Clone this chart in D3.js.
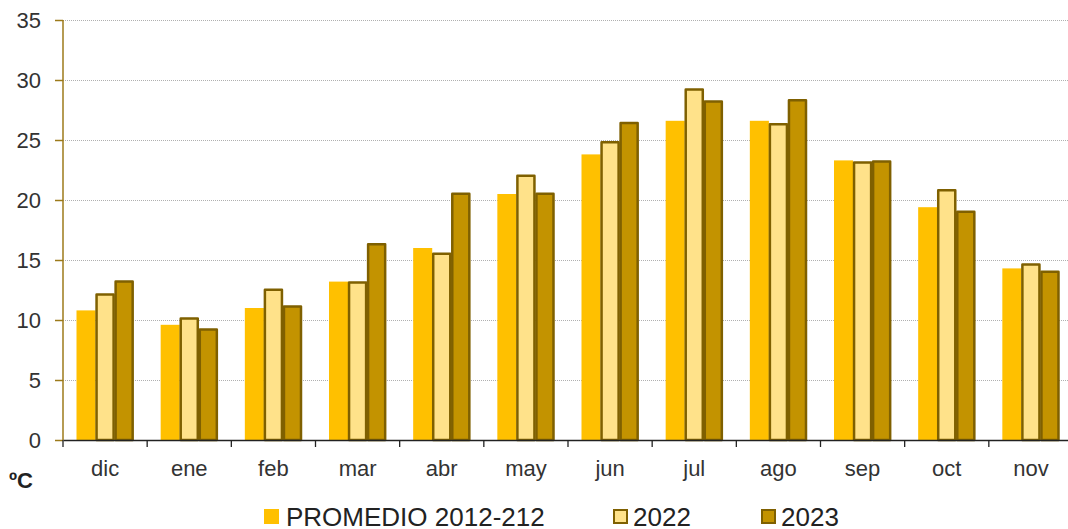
<!DOCTYPE html>
<head>
  <meta charset="utf-8">
  <script src="https://cdn.jsdelivr.net/npm/d3@7/dist/d3.min.js"></script>
  <style>
    body { font-family: Arial, "Liberation Sans", sans-serif; margin:0; background:#fff; overflow:hidden; }
    .grid line { stroke:#b0b0b0; stroke-dasharray:1,1; }
    .grid path { display:none; }
  </style>
</head>
<body>
  <script>
    // data
    var months = ["dic","ene","feb","mar","abr","may","jun","jul","ago","sep","oct","nov"];
    var seriesNames = ["PROMEDIO 2012-212", "2022", "2023"];
    var promedio = [10.8, 9.6, 11.0, 13.2, 16.0, 20.5, 23.8, 26.6, 26.6, 23.3, 19.4, 14.3];
    var y2022 =    [12.2, 10.2, 12.6, 13.2, 15.6, 22.1, 24.9, 29.3, 26.4, 23.2, 20.9, 14.7];
    var y2023 =    [13.3, 9.3, 11.2, 16.4, 20.6, 20.6, 26.5, 28.3, 28.4, 23.3, 19.1, 14.1];
    var yTicks = [0, 5, 10, 15, 20, 25, 30, 35];

    var fills = ["#FFC000", "#FFE28A", "#C39300"];
    var strokes = [null, "#7F6000", "#7F6000"];

    var width = 1068, height = 529;
    var svg = d3.select("body").append("svg")
      .attr("width", width).attr("height", height);

    var mLeft = 63, mTop = 20, mBottom = 440, mRight = 1073;

    var x = d3.scaleBand().domain(months).range([mLeft, mRight]).paddingInner(0).paddingOuter(0);
    var x1 = d3.scaleBand().domain([0,1,2]).range([13.5, x.bandwidth() - 13.5]);
    var y = d3.scaleLinear().domain([0, 35]).range([mBottom, mTop]);

    // gridlines
    svg.append("g").attr("class", "grid")
      .attr("transform", "translate(" + mLeft + ",0)")
      .call(d3.axisRight(y).tickValues(yTicks.slice(1)).tickSize(mRight - mLeft).tickFormat(""));

    var data = months.map(function(m, i) {
      return { month: m, vals: [promedio[i], y2022[i], y2023[i]] };
    });

    var groups = svg.selectAll(".grp").data(data).enter().append("g")
      .attr("transform", function(d) { return "translate(" + x(d.month) + ",0)"; });

    groups.selectAll("rect").data(function(d) { return d.vals; }).enter().append("rect")
      .attr("x", function(d, i) { return x1(i) + (strokes[i] ? 1 : 0); })
      .attr("width", function(d, i) { return x1.bandwidth() - (strokes[i] ? 2 : 0); })
      .attr("y", function(d, i) { return y(d) + (strokes[i] ? 1 : 0); })
      .attr("height", function(d, i) { return mBottom - y(d) - (strokes[i] ? 1 : 0); })
      .attr("fill", function(d, i) { return fills[i]; })
      .attr("stroke", function(d, i) { return strokes[i] || "none"; })
      .attr("stroke-width", 2.5)
      .attr("stroke-linejoin", "round");

    // y axis
    var yAxis = svg.append("g")
      .attr("transform", "translate(" + mLeft + ",0)")
      .call(d3.axisLeft(y).tickValues(yTicks).tickSize(8).tickPadding(14));
    yAxis.selectAll("line").attr("stroke", "#9C7A1A").attr("stroke-width", 1.5);
    yAxis.select(".domain").attr("stroke", "#9C7A1A").attr("stroke-width", 1.5)
      .attr("d", "M0," + mTop + "V" + mBottom);
    yAxis.selectAll("text").attr("font-size", 22).attr("font-family", "Arial, 'Liberation Sans'").attr("fill", "#333");

    // x axis
    var xAxis = svg.append("g")
      .attr("transform", "translate(0," + mBottom + ")")
      .call(d3.axisBottom(x).tickSize(0).tickPadding(20));
    xAxis.select(".domain").attr("stroke", "#222").attr("stroke-width", 1.3);
    xAxis.selectAll("text").attr("font-size", 22).attr("font-family", "Arial, 'Liberation Sans'").attr("fill", "#333");
    // tick marks at band boundaries
    svg.append("g").selectAll("line").data(months).enter().append("line")
      .attr("x1", function(d) { return x(d); }).attr("x2", function(d) { return x(d); })
      .attr("y1", mBottom).attr("y2", mBottom + 7)
      .attr("stroke", "#222").attr("stroke-width", 1.3);

    // unit label
    svg.append("text").attr("x", 9).attr("y", 488)
      .attr("font-size", 22).attr("font-weight", "bold").attr("fill", "#222")
      .text("ºC");

    // legend
    var legendX = [264, 613, 761];
    var leg = svg.selectAll(".leg").data(seriesNames).enter().append("g")
      .attr("transform", function(d, i) { return "translate(" + legendX[i] + ",509)"; });
    leg.append("rect")
      .attr("x", function(d, i) { return strokes[i] ? 1 : 0; })
      .attr("y", function(d, i) { return strokes[i] ? 1 : 0; })
      .attr("width", function(d, i) { return strokes[i] ? 13 : 15; })
      .attr("height", function(d, i) { return strokes[i] ? 13 : 15; })
      .attr("fill", function(d, i) { return fills[i]; })
      .attr("stroke", function(d, i) { return strokes[i] || "none"; })
      .attr("stroke-width", 2);
    leg.append("text").attr("x", function(d, i) { return i === 0 ? 22 : 20; }).attr("y", 17)
      .attr("font-size", 26).attr("fill", "#222")
      .text(function(d) { return d; });
  </script>
</body>
